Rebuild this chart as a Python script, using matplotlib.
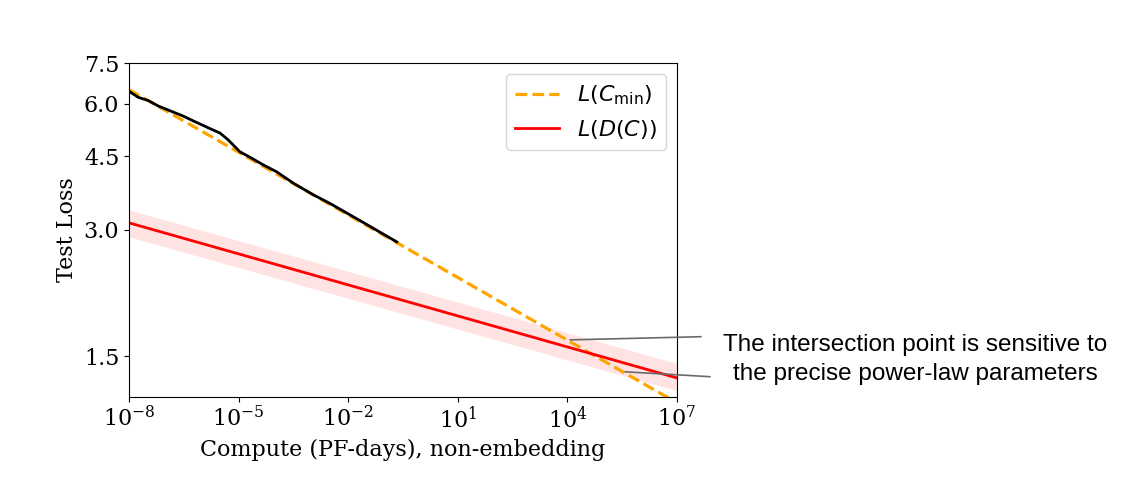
import numpy as np
import matplotlib
matplotlib.use("Agg")
from matplotlib import pyplot as plt

# 数据：从图中读取
emp_compute = [1.0e-8, 1.80e-8, 3.37e-8, 6.34e-8, 1.19e-7, 3.06e-7, 6.41e-7,
               1.48e-6, 3.10e-6, 5.22e-6, 1.09e-5, 2.29e-5, 4.74e-5,
               1.10e-4, 3.15e-4, 1.11e-3, 3.18e-3, 1.12e-2, 3.95e-2, 0.213]
emp_loss = [6.43, 6.22, 6.11, 5.93, 5.80, 5.61, 5.44,
            5.26, 5.11, 4.92, 4.61, 4.45, 4.29,
            4.13, 3.88, 3.64, 3.47, 3.26, 3.06, 2.81]

cmin_compute = [1e-8, 1e7]
cmin_loss = [6.49, 1.16]

dc_compute = [1e-8, 1e7]
dc_loss = [3.12, 1.33]
dc_upper = [3.35, 1.44]
dc_lower = [2.89, 1.24]

ytick_vals = [1.5, 3.0, 4.5, 6.0, 7.5]
xtick_vals = [1e-8, 1e-5, 1e-2, 1e1, 1e4, 1e7]

# 注释指向的点
pt1 = (1.18e4, 1.64)
pt2 = (3.78e5, 1.376)

plt.rcParams['font.family'] = 'DejaVu Serif'
plt.rcParams['mathtext.fontset'] = 'dejavuserif'

fig = plt.figure(figsize=(11.46, 4.84), dpi=100)
ax = fig.add_axes([0.1126, 0.1804, 0.4782, 0.6888])

ax.fill_between(dc_compute, dc_lower, dc_upper, color='red', alpha=0.11, lw=0)
ax.plot(cmin_compute, cmin_loss, '--', color='orange', lw=2.3, label=r'$L(C_{\rm min})$')
ax.plot(dc_compute, dc_loss, '-', color='red', lw=2, label=r'$L(D(C))$')
ax.plot(emp_compute, emp_loss, '-', color='black', lw=2)

ax.set_xscale('log')
ax.set_yscale('log')
ax.set_xlim(1e-8, 1e7)
ax.set_ylim(1.2, 7.5)
ax.set_xticks(xtick_vals)
ax.xaxis.set_minor_locator(matplotlib.ticker.NullLocator())
ax.set_yticks(ytick_vals)
ax.set_yticklabels([f'{v:.1f}' for v in ytick_vals])
ax.yaxis.set_minor_locator(matplotlib.ticker.NullLocator())
ax.tick_params(labelsize=16)
ax.set_xlabel('Compute (PF-days), non-embedding', fontsize=16)
ax.set_ylabel('Test Loss', fontsize=16)

leg = ax.legend(loc='upper right', fontsize=16)
for t in leg.get_texts():
    t.set_math_fontfamily('dejavusans')

# 注释
fig.text(0.7984, 0.257, 'The intersection point is sensitive to\nthe precise power-law parameters',
         ha='center', va='center', fontsize=17.5, family='Liberation Sans', linespacing=1.4)
ax.annotate('', xy=pt1, xycoords='data', xytext=(701 / 1146, 1 - 336.7 / 484),
            textcoords='figure fraction',
            arrowprops=dict(arrowstyle='-', color='dimgray', lw=1.2, shrinkA=0, shrinkB=0),
            annotation_clip=False)
ax.annotate('', xy=pt2, xycoords='data', xytext=(710 / 1146, 1 - 376.7 / 484),
            textcoords='figure fraction',
            arrowprops=dict(arrowstyle='-', color='dimgray', lw=1.2, shrinkA=0, shrinkB=0),
            annotation_clip=False)

fig.savefig('out.png', dpi=100)
